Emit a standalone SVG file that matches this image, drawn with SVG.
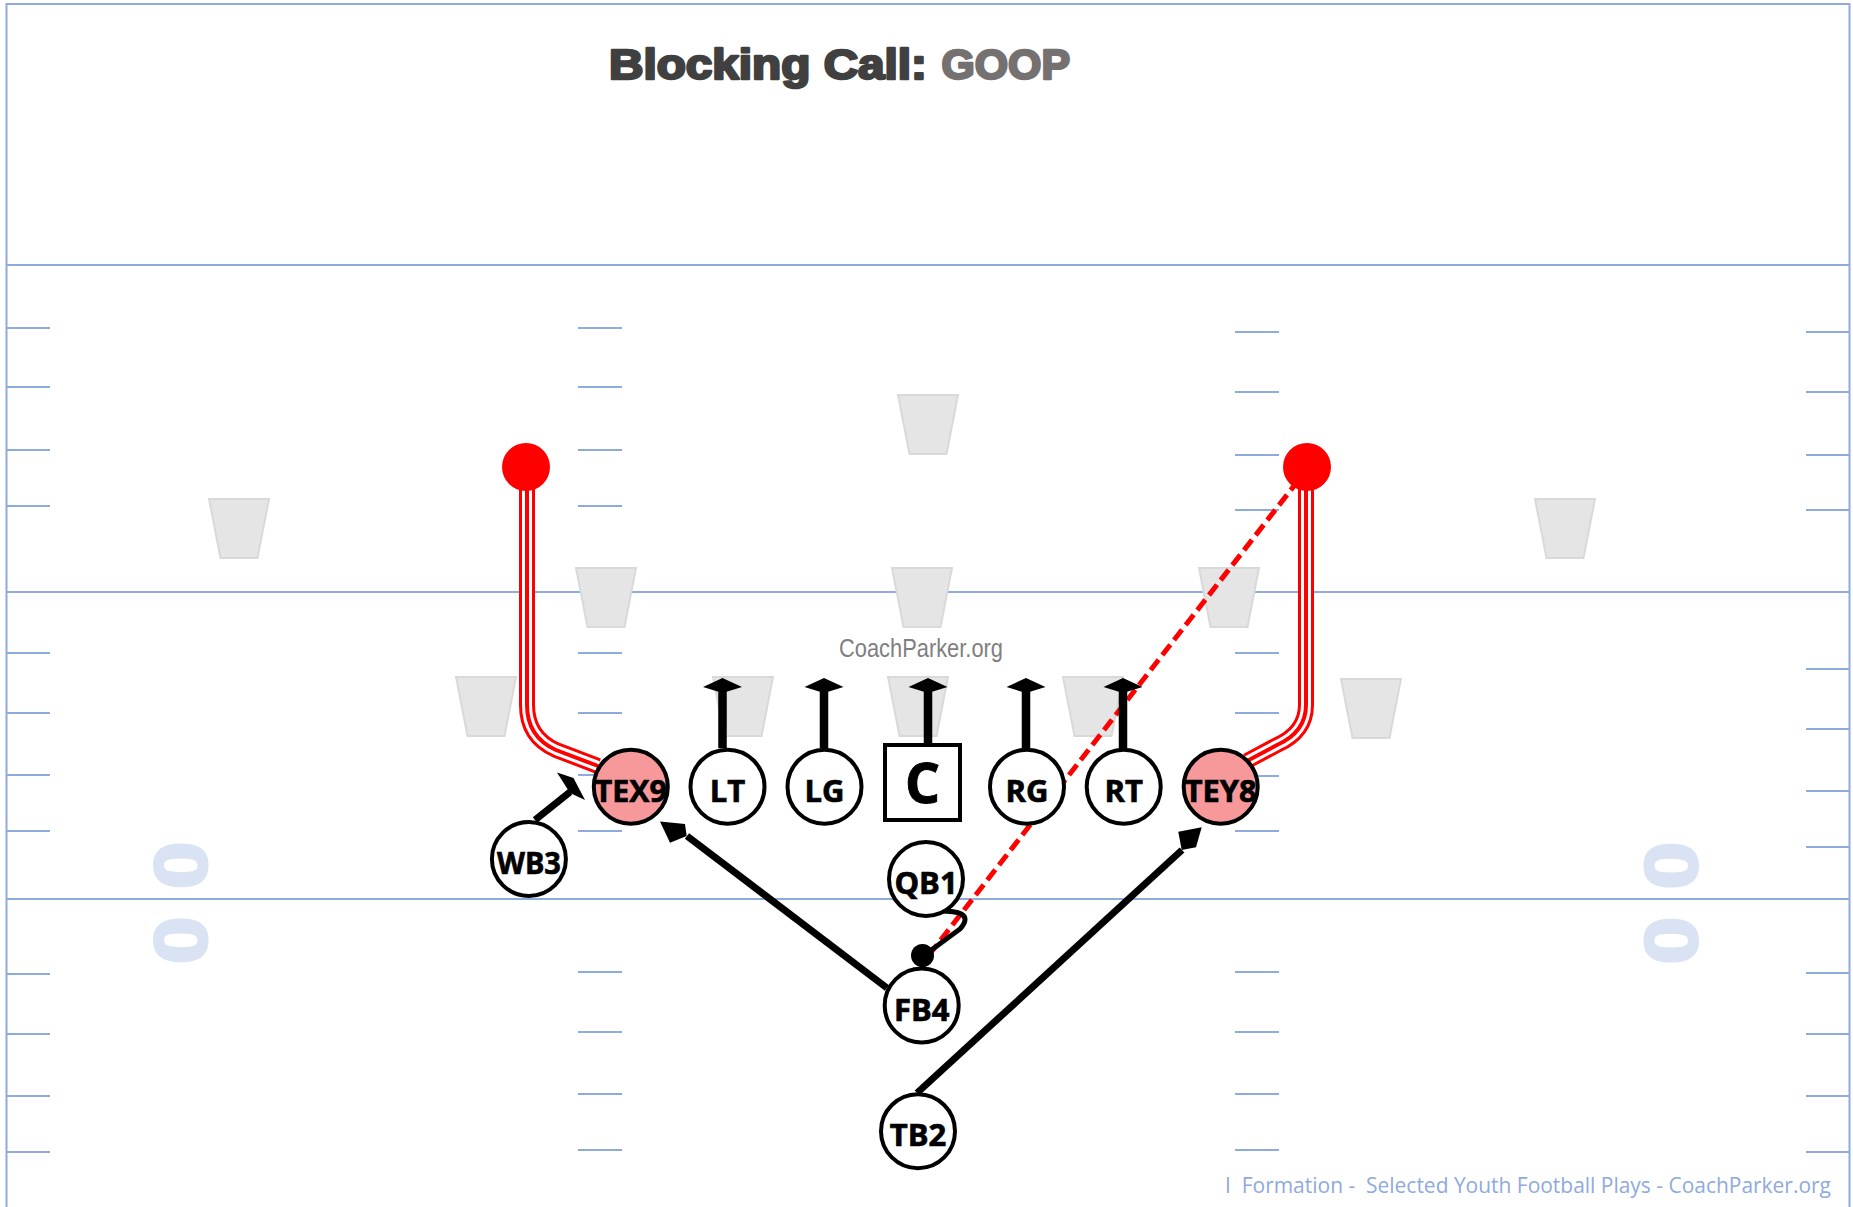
<svg xmlns="http://www.w3.org/2000/svg" width="1853" height="1207" viewBox="0 0 1853 1207">
<style>
.fl{stroke:#8FAADC;stroke-width:2;fill:none}
.hm{stroke:#8FAADC;stroke-width:2}
.yd{font-family:"Liberation Sans",Arial,sans-serif;font-weight:bold;font-size:74px;fill:#DAE3F3;stroke:#DAE3F3;stroke-width:3;text-anchor:middle}
.tz{fill:#E5E5E5;stroke:#D9D9D9;stroke-width:2}
.pl{fill:#fff;stroke:#000;stroke-width:4}
.te{fill:#F7999B;stroke:#000;stroke-width:4}
.lb{font-family:"Open Sans","Noto Sans","Liberation Sans",sans-serif;font-weight:bold;font-size:31px;fill:#000;stroke:#000;stroke-width:0.7;text-anchor:middle}
.blk{stroke:#000;stroke-width:8.5;fill:none}
.mv{stroke:#000;stroke-width:7;fill:none;stroke-linecap:butt}
.ah{fill:#000}
</style>
<defs>
<path id="trap" d="M0 0 H60 L48.5 59 H11.5 Z"/>
</defs>
<rect x="0" y="0" width="1853" height="1207" fill="#fff"/>

<g id="field">
<path class="fl" d="M6.5 1207 V4 H1849.5 V1207"/>
<path class="fl" d="M6.5 265 H1849.5 M6.5 592 H1849.5 M6.5 899 H1849.5"/>
<g id="hashes">
<path class="hm" d="M7 328 H50 M7 387 H50 M7 450 H50 M7 506 H50 M7 653 H50 M7 713 H50 M7 775 H50 M7 831 H50 M7 974 H50 M7 1034 H50 M7 1096 H50 M7 1152 H50"/>
<path class="hm" d="M578 328 H622 M578 387 H622 M578 450 H622 M578 506 H622 M578 653 H622 M578 713 H622 M578 775 H622 M578 831 H622 M578 972 H622 M578 1032 H622 M578 1094 H622 M578 1150 H622"/>
<path class="hm" d="M1235 332 H1279 M1235 392 H1279 M1235 455 H1279 M1235 510 H1279 M1235 653 H1279 M1235 713 H1279 M1235 776 H1279 M1235 831 H1279 M1235 972 H1279 M1235 1032 H1279 M1235 1094 H1279 M1235 1150 H1279"/>
<path class="hm" d="M1806 332 H1849 M1806 392 H1849 M1806 455 H1849 M1806 510 H1849 M1806 669 H1849 M1806 729 H1849 M1806 791 H1849 M1806 847 H1849 M1806 973 H1849 M1806 1034 H1849 M1806 1096 H1849 M1806 1152 H1849"/>
</g>
<g id="yard-numbers">
<text class="yd" transform="translate(182,865.5) rotate(90) scale(1.15,1)" x="0" y="26.5">0</text>
<text class="yd" transform="translate(182,940.5) rotate(90) scale(1.15,1)" x="0" y="26.5">0</text>
<text class="yd" transform="translate(1670,865.5) rotate(-90) scale(1.15,1)" x="0" y="26.5">0</text>
<text class="yd" transform="translate(1670,940.5) rotate(-90) scale(1.15,1)" x="0" y="26.5">0</text>
</g>
</g>

<g id="defense">
<use href="#trap" class="tz" x="898" y="395"/>
<use href="#trap" class="tz" x="209" y="499"/>
<use href="#trap" class="tz" x="1535" y="499"/>
<use href="#trap" class="tz" x="576" y="568"/>
<use href="#trap" class="tz" x="892" y="568"/>
<use href="#trap" class="tz" x="1199" y="568"/>
<use href="#trap" class="tz" x="456" y="677"/>
<use href="#trap" class="tz" x="713" y="677"/>
<use href="#trap" class="tz" x="888" y="677"/>
<use href="#trap" class="tz" x="1063" y="677"/>
<use href="#trap" class="tz" x="1341" y="679"/>
</g>

<text x="839" y="657" font-family="Liberation Sans, Arial, sans-serif" font-size="25" fill="#7F7F7F" textLength="164" lengthAdjust="spacingAndGlyphs">CoachParker.org</text>

<g id="title">
<text x="609" y="79" font-family="Liberation Sans, Arial, sans-serif" font-weight="bold" font-size="42" fill="#404040" stroke="#404040" stroke-width="2.5" stroke-linejoin="round" textLength="318" lengthAdjust="spacingAndGlyphs">Blocking Call:</text>
<text x="941.5" y="79" font-family="Liberation Sans, Arial, sans-serif" font-weight="bold" font-size="42" fill="#767171" stroke="#767171" stroke-width="2.5" stroke-linejoin="round" textLength="128.5" lengthAdjust="spacingAndGlyphs">GOOP</text>
</g>

<g id="connectors">
<g id="route-TEX9" fill="none" stroke-linejoin="round">
<path d="M527 470 V705 Q527 737 556 750 L598 766" stroke="#FF0000" stroke-width="16"/>
<path d="M527 470 V705 Q527 737 556 750 L598 766" stroke="#FFFFFF" stroke-width="10"/>
<path d="M527 470 V705 Q527 737 556 750 L598 766" stroke="#FF0000" stroke-width="4"/>
<circle cx="526" cy="467" r="24" fill="#FF0000"/>
</g>
<g id="route-TEY8" fill="none" stroke-linejoin="round">
<path d="M1306 470 V705 Q1306 732 1277 745 L1247 761" stroke="#FF0000" stroke-width="16"/>
<path d="M1306 470 V705 Q1306 732 1277 745 L1247 761" stroke="#FFFFFF" stroke-width="10"/>
<path d="M1306 470 V705 Q1306 732 1277 745 L1247 761" stroke="#FF0000" stroke-width="4"/>
</g>
<path id="pass" d="M929 955 L1297 482" stroke="#FF0000" stroke-width="5" stroke-dasharray="13 6" fill="none"/>
<circle cx="1307" cy="467" r="24" fill="#FF0000"/>
<g id="blocks">
<path class="blk" d="M722.5 690 V748 M824 690 V748 M928 690 V748 M1026 690 V748 M1123 690 V750"/>
<polygon class="ah" points="722.5,678 742,687 722.5,693 703,687"/>
<polygon class="ah" points="824,678 843.5,687 824,693 804.5,687"/>
<polygon class="ah" points="928,678 947.5,687 928,693 908.5,687"/>
<polygon class="ah" points="1026,678 1045.5,687 1026,693 1006.5,687"/>
<polygon class="ah" points="1123,678 1142.5,687 1123,693 1103.5,687"/>
</g>
<g id="moves">
<path class="mv" d="M535 820 L570 792"/>
<polygon class="ah" points="557,772.5 573.5,778 585,800 570,793"/>
<path class="mv" d="M887 988 L687 836"/>
<polygon class="ah" points="660,821.5 685,824 686.7,836 670,842.7"/>
<path class="mv" d="M917 1093 L1182 850"/>
<polygon class="ah" points="1201.7,827.3 1196,847.3 1181.7,850 1178.3,831.7"/>
<path d="M940 911 C956 911 974 913 960 929 L926 954" stroke="#000" stroke-width="5" fill="none"/>
<circle cx="922.5" cy="955.5" r="11.5" fill="#000"/>
</g>
</g>

<g id="nodes">
<g id="node-TEX9"><circle class="te" cx="630.8" cy="786.7" r="37"/><text class="lb" x="630.8" y="802" textLength="72" lengthAdjust="spacingAndGlyphs">TEX9</text></g>
<g id="node-LT"><circle class="pl" cx="727.5" cy="786.7" r="37"/><text class="lb" x="727.5" y="802">LT</text></g>
<g id="node-LG"><circle class="pl" cx="824.5" cy="786.7" r="37"/><text class="lb" x="824.5" y="802">LG</text></g>
<g id="node-C"><rect class="pl" x="885" y="745" width="75" height="75"/><text x="922.5" y="802.5" font-family="Open Sans, Noto Sans, Liberation Sans, sans-serif" font-weight="bold" font-size="55" stroke="#000" stroke-width="1" text-anchor="middle">C</text></g>
<g id="node-RG"><circle class="pl" cx="1027" cy="786.7" r="37"/><text class="lb" x="1027" y="802">RG</text></g>
<g id="node-RT"><circle class="pl" cx="1123.7" cy="786.7" r="37"/><text class="lb" x="1123.7" y="802">RT</text></g>
<g id="node-TEY8"><circle class="te" cx="1220.7" cy="786.7" r="37"/><text class="lb" x="1220.7" y="802" textLength="72" lengthAdjust="spacingAndGlyphs">TEY8</text></g>
<g id="node-WB3"><circle class="pl" cx="528.9" cy="859" r="37"/><text class="lb" x="528.9" y="874" textLength="64" lengthAdjust="spacingAndGlyphs">WB3</text></g>
<g id="node-QB1"><circle class="pl" cx="926" cy="879" r="37"/><text class="lb" x="926" y="894">QB1</text></g>
<g id="node-FB4"><circle class="pl" cx="921.7" cy="1005.5" r="37"/><text class="lb" x="921.7" y="1020.5">FB4</text></g>
<g id="node-TB2"><circle class="pl" cx="918" cy="1131.2" r="37"/><text class="lb" x="918" y="1146">TB2</text></g>
</g>

<text x="1225" y="1193" font-family="Open Sans, Noto Sans, Liberation Sans, sans-serif" font-size="21" fill="#8FAADC" xml:space="preserve" textLength="606" lengthAdjust="spacingAndGlyphs">I  Formation -  Selected Youth Football Plays - CoachParker.org</text>
</svg>
